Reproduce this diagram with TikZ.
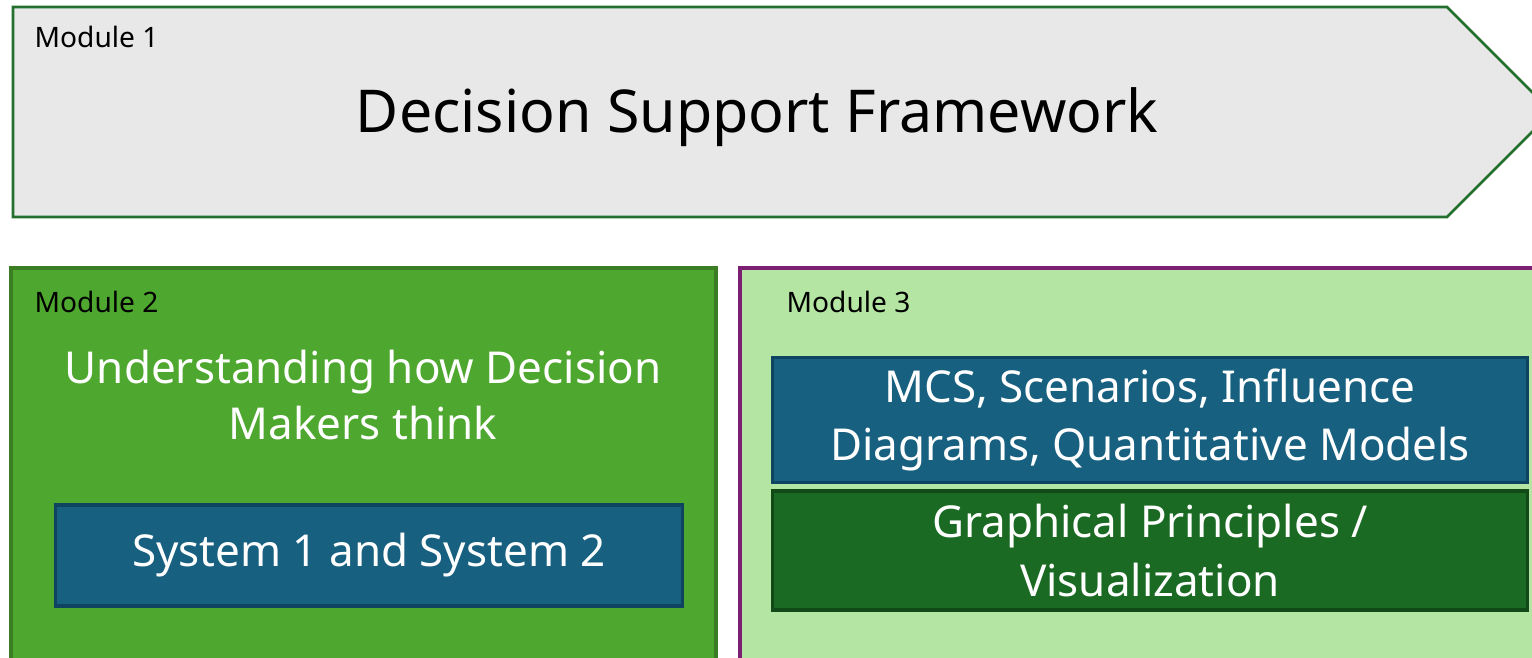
\documentclass[tikz,border=0pt]{standalone}
\usepackage{fontspec}
\setmainfont{Noto Sans}

\definecolor{framegrey}{HTML}{E8E8E8}
\definecolor{frameline}{HTML}{23702E}
\definecolor{modtwofill}{HTML}{4EA72E}
\definecolor{modtwoline}{HTML}{3B7D23}
\definecolor{modthreefill}{HTML}{B4E5A2}
\definecolor{modthreeline}{HTML}{7A1F72}
\definecolor{boxblue}{HTML}{17607F}
\definecolor{boxblueline}{HTML}{0F4460}
\definecolor{boxgreen}{HTML}{1B6A23}
\definecolor{boxgreenline}{HTML}{114A17}

\begin{document}
\begin{tikzpicture}[x=0.01cm,y=-0.01cm,
  modlabel/.style={anchor=base west,inner sep=0pt,font=\fontsize{8}{10}\selectfont},
  bigtext/.style={text=white,align=center,inner sep=0pt,font=\fontsize{12.5}{16}\selectfont},
  bluebox/.style={draw=boxblueline,fill=boxblue,line width=0.9pt,text=white,align=center,
    font=\fontsize{12.5}{16.5}\selectfont},
  greenbox/.style={draw=boxgreenline,fill=boxgreen,line width=0.9pt,text=white,align=center,
    font=\fontsize{12.5}{16.5}\selectfont}]

\useasboundingbox (0,0) rectangle (1532,657) ;
\clip (0,0) rectangle (1532,657) ;

% module 1: the arrow on top
\draw[frameline,fill=framegrey,line width=0.75pt] (13,7) -- (1447,7) -- (1552,112) -- (1447,217) -- (13,217) -- cycle ;
\node[modlabel] (m1) at (34,47) {Module 1} ;
\node[inner sep=0pt,font=\fontsize{16.8}{19}\selectfont] (dsf) at (757,117) {Decision Support Framework} ;

% module 2
\draw[modtwoline,fill=modtwofill,line width=0.9pt] (11,268) rectangle (716,680) ;
\node[modlabel] (m2) at (34,312) {Module 2} ;
\node[bigtext] (think) at (363,395) {Understanding how Decision\\Makers think} ;
\node[bluebox,minimum width=6.26cm,minimum height=1.01cm] (sys) at (369,555.5) {\raisebox{-1.1pt}{System 1 and System 2}} ;

% module 3
\draw[modthreeline,fill=modthreefill,line width=0.9pt] (740,268) rectangle (1560,680) ;
\node[modlabel] (m3) at (786,312) {Module 3} ;
\node[bluebox,minimum width=7.54cm,minimum height=1.2cm] (mcs) at (1150,420) {MCS, Scenarios, Influence\\Diagrams, Quantitative Models} ;
\node[greenbox,minimum width=7.54cm,minimum height=1.19cm] (viz) at (1150,550.5) {Graphical Principles /\\Visualization} ;

\end{tikzpicture}
\end{document}
